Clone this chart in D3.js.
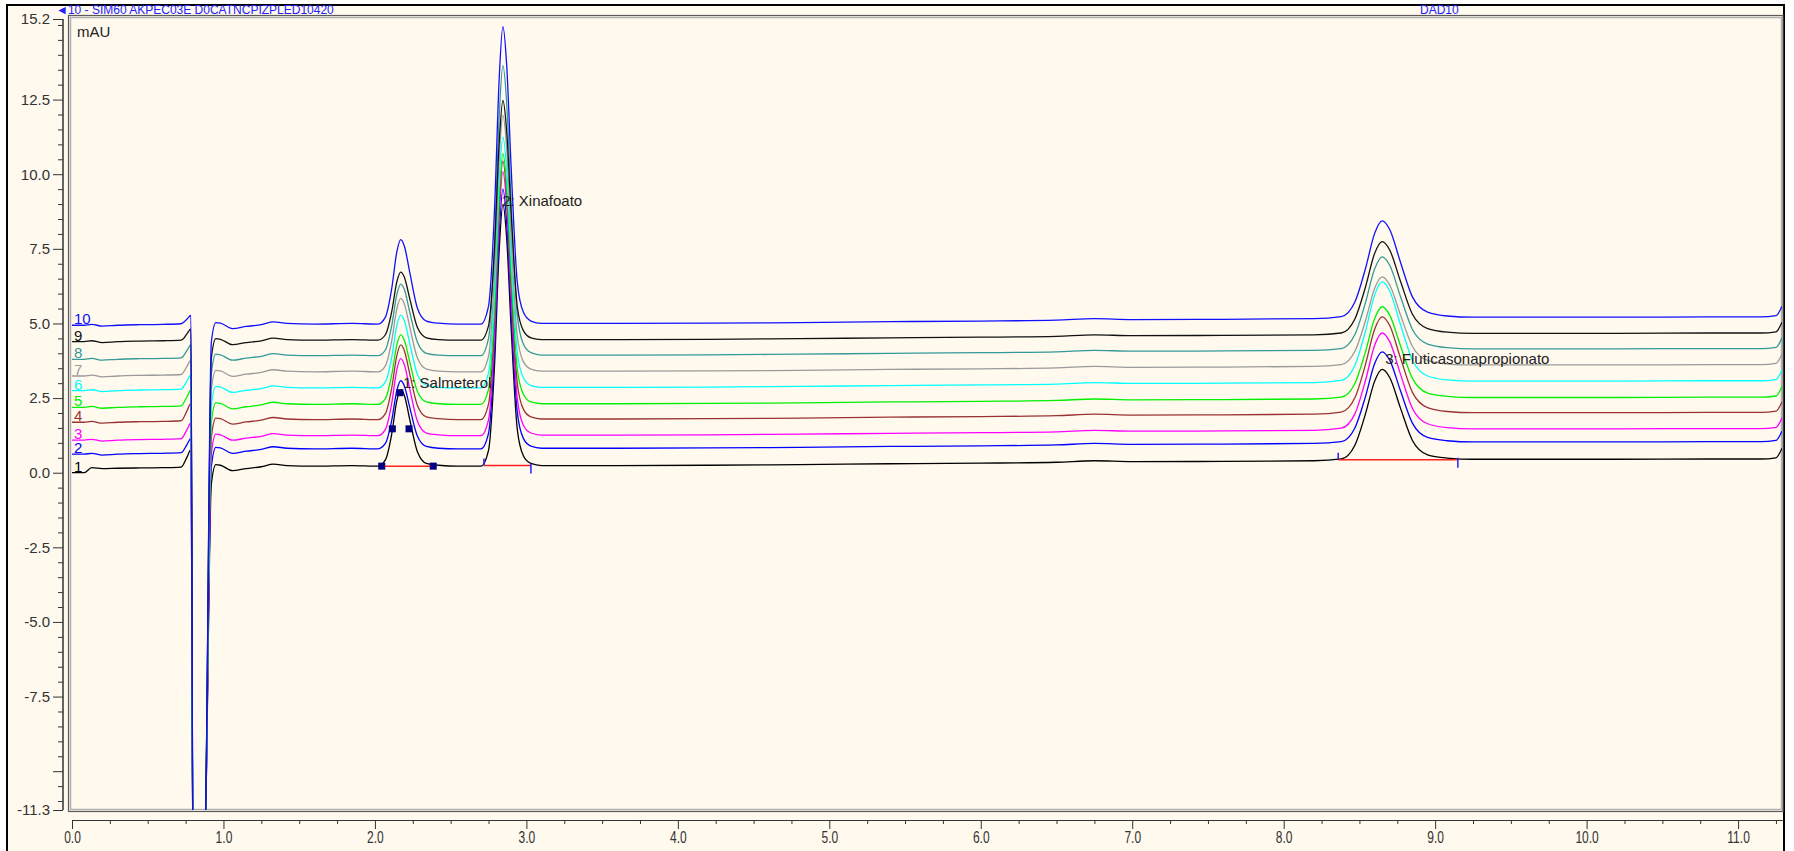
<!DOCTYPE html>
<html><head><meta charset="utf-8">
<script src="https://cdn.jsdelivr.net/npm/d3@7"></script>
<style>body{margin:0;background:#fff;} svg{display:block;}</style>
</head><body><svg id="chart" width="1794" height="851"></svg>
<script>
// ---- data (retention time in min, signal in mAU) ----
const times = [0,0.08,0.13,0.20,0.30,0.45,0.60,0.72,0.76,0.785,0.80,0.86,0.88,0.92,0.95,0.98,1.06,1.15,1.25,1.33,1.42,1.60,1.85,2.02,2.07,2.11,2.145,2.17,2.195,2.23,2.28,2.34,2.42,2.55,2.70,2.75,2.79,2.82,2.845,2.87,2.90,2.94,2.98,3.03,3.10,3.25,3.6,4.2,4.8,5.4,6.0,6.5,6.75,7.0,7.6,8.2,8.38,8.47,8.54,8.60,8.65,8.70,8.77,8.85,8.95,9.08,9.25,9.6,10.2,10.8,11.15,11.25,11.29];

const trace1 = [0.00,0.00,0.17,0.14,0.15,0.16,0.17,0.19,0.53,0.77,-14,-14,-12,-0.38,0.27,0.25,0.07,0.14,0.20,0.29,0.24,0.22,0.24,0.22,0.44,1.27,2.42,2.78,2.58,1.78,0.71,0.31,0.25,0.22,0.22,0.75,3.64,7.41,8.99,7.85,4.78,1.45,0.57,0.31,0.24,0.24,0.24,0.25,0.27,0.30,0.32,0.35,0.40,0.37,0.38,0.40,0.46,0.92,1.97,3.06,3.46,3.19,2.18,1.08,0.60,0.49,0.45,0.45,0.45,0.46,0.46,0.50,0.82];
const trace2 = [0.62,0.62,0.65,0.59,0.62,0.64,0.65,0.67,0.95,1.15,-14,-14,-12,0.20,0.85,0.83,0.65,0.72,0.78,0.87,0.82,0.80,0.82,0.80,0.99,1.73,2.76,3.08,2.90,2.19,1.23,0.88,0.82,0.80,0.80,1.32,4.19,7.93,9.50,8.37,5.32,2.02,1.15,0.89,0.82,0.82,0.82,0.83,0.85,0.88,0.90,0.93,0.98,0.95,0.96,0.98,1.04,1.50,2.55,3.65,4.05,3.77,2.76,1.66,1.18,1.07,1.03,1.03,1.03,1.04,1.04,1.08,1.40];
const trace3 = [1.09,1.09,1.12,1.06,1.09,1.11,1.12,1.14,1.45,1.67,-14,-14,-12,0.64,1.29,1.27,1.09,1.16,1.22,1.31,1.26,1.24,1.26,1.24,1.46,2.30,3.46,3.82,3.61,2.81,1.73,1.33,1.27,1.24,1.24,1.77,4.69,8.50,10.09,8.94,5.84,2.48,1.59,1.33,1.26,1.26,1.26,1.27,1.29,1.32,1.34,1.37,1.42,1.39,1.40,1.42,1.49,1.97,3.09,4.26,4.68,4.39,3.32,2.15,1.64,1.51,1.47,1.47,1.47,1.48,1.48,1.52,1.84];
const trace4 = [1.69,1.69,1.72,1.66,1.69,1.71,1.72,1.74,2.08,2.32,-14,-14,-12,1.18,1.83,1.81,1.63,1.70,1.76,1.85,1.80,1.78,1.80,1.78,1.99,2.81,3.93,4.28,4.08,3.31,2.26,1.87,1.81,1.78,1.78,2.30,5.16,8.89,10.45,9.32,6.29,2.99,2.13,1.87,1.80,1.80,1.80,1.81,1.83,1.86,1.88,1.91,1.96,1.93,1.94,1.96,2.03,2.51,3.63,4.80,5.22,4.93,3.86,2.69,2.18,2.05,2.01,2.01,2.01,2.02,2.02,2.06,2.38];
const trace5 = [2.19,2.19,2.22,2.16,2.19,2.21,2.22,2.24,2.55,2.77,-14,-14,-12,1.69,2.34,2.32,2.14,2.21,2.27,2.36,2.31,2.29,2.31,2.29,2.49,3.25,4.29,4.62,4.43,3.71,2.73,2.37,2.31,2.29,2.29,2.79,5.57,9.18,10.69,9.60,6.66,3.47,2.63,2.37,2.31,2.31,2.31,2.32,2.34,2.37,2.39,2.42,2.47,2.44,2.45,2.47,2.53,2.99,4.05,5.16,5.56,5.28,4.27,3.16,2.67,2.56,2.52,2.52,2.52,2.53,2.53,2.57,2.89];
const trace6 = [2.75,2.75,2.78,2.72,2.75,2.77,2.78,2.80,3.08,3.28,-14,-14,-12,2.24,2.89,2.87,2.69,2.76,2.82,2.91,2.86,2.84,2.86,2.84,3.05,3.84,4.94,5.28,5.08,4.33,3.30,2.93,2.86,2.84,2.84,3.34,6.12,9.73,11.24,10.15,7.21,4.02,3.18,2.92,2.86,2.86,2.86,2.87,2.89,2.92,2.94,2.97,3.02,2.99,3.00,3.02,3.09,3.59,4.74,5.95,6.39,6.09,4.98,3.77,3.24,3.11,3.07,3.07,3.07,3.08,3.08,3.12,3.44];
const trace7 = [3.24,3.24,3.27,3.21,3.24,3.26,3.27,3.29,3.57,3.77,-14,-14,-12,2.78,3.43,3.41,3.23,3.30,3.36,3.45,3.40,3.38,3.40,3.38,3.59,4.39,5.50,5.84,5.64,4.88,3.85,3.47,3.40,3.38,3.38,3.90,6.73,10.43,11.98,10.86,7.85,4.58,3.72,3.47,3.40,3.40,3.40,3.41,3.43,3.46,3.48,3.51,3.56,3.53,3.54,3.56,3.62,4.07,5.09,6.17,6.56,6.29,5.30,4.23,3.76,3.64,3.61,3.61,3.61,3.62,3.62,3.66,3.98];
const trace8 = [3.80,3.80,3.83,3.77,3.80,3.82,3.83,3.85,4.10,4.28,-14,-14,-12,3.32,3.97,3.95,3.77,3.84,3.90,3.99,3.94,3.92,3.94,3.92,4.12,4.90,5.98,6.32,6.13,5.38,4.38,4.00,3.94,3.92,3.92,4.50,7.71,11.89,13.64,12.38,8.97,5.28,4.31,4.02,3.94,3.94,3.94,3.95,3.97,4.00,4.02,4.05,4.10,4.07,4.08,4.10,4.16,4.63,5.70,6.82,7.23,6.95,5.92,4.80,4.31,4.19,4.15,4.15,4.15,4.16,4.16,4.20,4.52];
const trace9 = [4.39,4.39,4.42,4.36,4.39,4.41,4.42,4.44,4.66,4.82,-14,-14,-12,3.84,4.49,4.47,4.29,4.36,4.42,4.51,4.46,4.44,4.46,4.44,4.63,5.37,6.40,6.72,6.54,5.83,4.87,4.52,4.46,4.44,4.44,4.92,7.57,11.02,12.47,11.43,8.62,5.56,4.76,4.52,4.46,4.46,4.46,4.47,4.49,4.52,4.54,4.57,4.62,4.59,4.60,4.62,4.68,5.15,6.22,7.34,7.74,7.46,6.43,5.31,4.83,4.71,4.67,4.67,4.67,4.68,4.68,4.72,5.04];
const trace10 = [4.94,4.94,4.97,4.91,4.94,4.96,4.97,4.99,5.15,5.27,-14,-14,-12,4.38,5.03,5.01,4.83,4.90,4.96,5.05,5.00,4.98,5.00,4.98,5.22,6.14,7.41,7.81,7.58,6.71,5.52,5.08,5.01,4.98,4.98,5.58,8.86,13.15,14.94,13.65,10.16,6.37,5.38,5.08,5.00,5.00,5.00,5.01,5.03,5.06,5.08,5.11,5.16,5.13,5.14,5.16,5.23,5.72,6.84,8.01,8.44,8.15,7.07,5.89,5.38,5.25,5.21,5.21,5.21,5.22,5.22,5.26,5.58];

const traceNames = ["1","2","3","4","5","6","7","8","9","10"];
const traceColors = ["#000000","#0000FF","#FF00FF","#993333","#00F000","#00FFFF","#9A9A9A","#339999","#111111","#1010FF"];

const yTickLabels = ["-11.3","-7.5","-5.0","-2.5","0.0","2.5","5.0","7.5","10.0","12.5","15.2"];
const xTickLabels = ["0.0","1.0","2.0","3.0","4.0","5.0","6.0","7.0","8.0","9.0","10.0","11.0"];

const peakLabels = ["1: Salmeterol","2: Xinafoato","3: Fluticasonapropionato"];
const peakLabelTimes = [2.185, 2.84, 8.67];
const peakLabelValues = [2.83, 8.93, 3.64];
const intStart = [2.045, 2.72, 8.36];
const intEnd = [2.385, 3.03, 9.15];
const intLevel = [0.22, 0.24, 0.43];
const markerTimes = [2.045, 2.115, 2.165, 2.225, 2.385];
const markerValues = [0.22, 1.47, 2.68, 1.47, 0.22];

// ---- drawing ----
const traces = [trace1,trace2,trace3,trace4,trace5,trace6,trace7,trace8,trace9,trace10];
const cream = "#FFF9EE";
const svg = d3.select("#chart");
const x = d3.scaleLinear().domain([0, 11.29]).range([72, 1782]);
const y = d3.scaleLinear().domain([-11.3, 15.2]).range([810, 19]);
const font = "'Liberation Sans', Arial, sans-serif";

// outer panel
svg.append("rect").attr("x",7).attr("y",5).attr("width",1777).attr("height",870)
  .attr("fill",cream).attr("stroke","#000").attr("stroke-width",2);

// title texts (in the band above the plot)
svg.append("text").attr("x",56).attr("y",14).attr("fill","#2222FF")
  .style("font-family",font).style("font-size","12px")
  .text("◄10 - SIM60 AKPEC03E D0CATNCPIZPLED10420");
svg.append("text").attr("x",1420).attr("y",14).attr("fill","#2222FF")
  .style("font-family",font).style("font-size","12px").text("DAD10");

// plot frame
svg.append("rect").attr("x",68.5).attr("y",15.5).attr("width",1714.5).attr("height",796)
  .attr("fill",cream).attr("stroke","#5a5a5a").attr("stroke-width",1.2);
svg.append("rect").attr("x",70.5).attr("y",17.5).attr("width",1711).attr("height",792)
  .attr("fill","none").attr("stroke","#b0b0b0").attr("stroke-width",1.5);

// y axis
const yMajor = yTickLabels.map(parseFloat).concat([-10]);
const yMinor = d3.range(-11, 15.01, 0.5).filter(v => !yMajor.some(m => Math.abs(m - v) < 1e-6));
const yAxisG = svg.append("g").attr("transform","translate(63,0)");
yAxisG.append("g").call(d3.axisLeft(y).tickValues(yMinor).tickSize(5).tickSizeOuter(0).tickFormat(""));
yAxisG.append("g").call(d3.axisLeft(y).tickValues(yMajor).tickSize(10).tickSizeOuter(0)
  .tickFormat(v => { const i = yTickLabels.map(parseFloat).indexOf(v); return i < 0 ? "" : yTickLabels[i]; }));
yAxisG.selectAll("path.domain").attr("stroke","#333").attr("d", `M0,${y(15.2)}V${y(-11.3)}`);
yAxisG.selectAll(".tick line").attr("stroke","#333");
yAxisG.selectAll(".tick text").attr("x",-13).style("font-family",font).style("font-size","15px").attr("fill","#333");

// x axis
const xMajor = xTickLabels.map(parseFloat);
const xMinor = d3.range(0.25, 11.29, 0.25).filter(v => Math.abs(v - Math.round(v)) > 1e-6);
const xAxisG = svg.append("g").attr("transform","translate(0,820)");
xAxisG.append("g").call(d3.axisBottom(x).tickValues(xMinor).tickSize(4).tickSizeOuter(0).tickFormat(""));
xAxisG.append("g").call(d3.axisBottom(x).tickValues(xMajor).tickSize(9).tickSizeOuter(0)
  .tickFormat((v,i) => xTickLabels[i]));
xAxisG.selectAll("path.domain").attr("stroke","#333");
xAxisG.selectAll(".tick line").attr("stroke","#333");
xAxisG.selectAll(".tick text").attr("y",11).style("font-family",font).style("font-size","15px")
  .attr("fill","#333").attr("transform","scale(0.8,1.05)");

// mAU label
svg.append("text").attr("x",77).attr("y",37).style("font-family",font).style("font-size","15px")
  .attr("fill","#222").text("mAU");

// clip
svg.append("clipPath").attr("id","clip").append("rect")
  .attr("x",71).attr("y",18).attr("width",1711).attr("height",792);
const plot = svg.append("g").attr("clip-path","url(#clip)");

const line = d3.line().x((d,i) => x(times[i])).y(d => y(d)).curve(d3.curveMonotoneX);
traces.forEach((tr, k) => {
  plot.append("path").datum(tr).attr("d", line).attr("fill","none")
    .attr("stroke", traceColors[k]).attr("stroke-width",1.3).attr("stroke-linejoin","round");
});

// integration baselines
peakLabels.forEach((p, i) => {
  plot.append("line").attr("x1",x(intStart[i])).attr("x2",x(intEnd[i]))
    .attr("y1",y(intLevel[i])).attr("y2",y(intLevel[i])).attr("stroke","#FF2020").attr("stroke-width",1.5);
  if (i > 0) {
    plot.append("line").attr("x1",x(intStart[i])).attr("x2",x(intStart[i]))
      .attr("y1",y(intLevel[i])).attr("y2",y(intLevel[i]) - 7).attr("stroke","#2020FF").attr("stroke-width",1.5);
    plot.append("line").attr("x1",x(intEnd[i])).attr("x2",x(intEnd[i]))
      .attr("y1",y(intLevel[i]) - 2).attr("y2",y(intLevel[i]) + 8).attr("stroke","#2020FF").attr("stroke-width",1.5);
  }
});
// peak markers
markerTimes.forEach((t, i) => {
  plot.append("rect").attr("x",x(t) - 3.5).attr("y",y(markerValues[i]) - 3.5)
    .attr("width",7).attr("height",7).attr("fill","#000080");
});

// trace number labels
traces.forEach((tr, k) => {
  plot.append("text").attr("x", x(0) + 2).attr("y", y(tr[0]) - 1)
    .style("font-family",font).style("font-size","15px").attr("fill", traceColors[k])
    .text(traceNames[k]);
});

// peak labels
peakLabels.forEach((p, i) => {
  plot.append("text").attr("x", x(peakLabelTimes[i])).attr("y", y(peakLabelValues[i]))
    .style("font-family",font).style("font-size","15px").attr("fill","#222").text(p);
});
</script>
</body></html>
